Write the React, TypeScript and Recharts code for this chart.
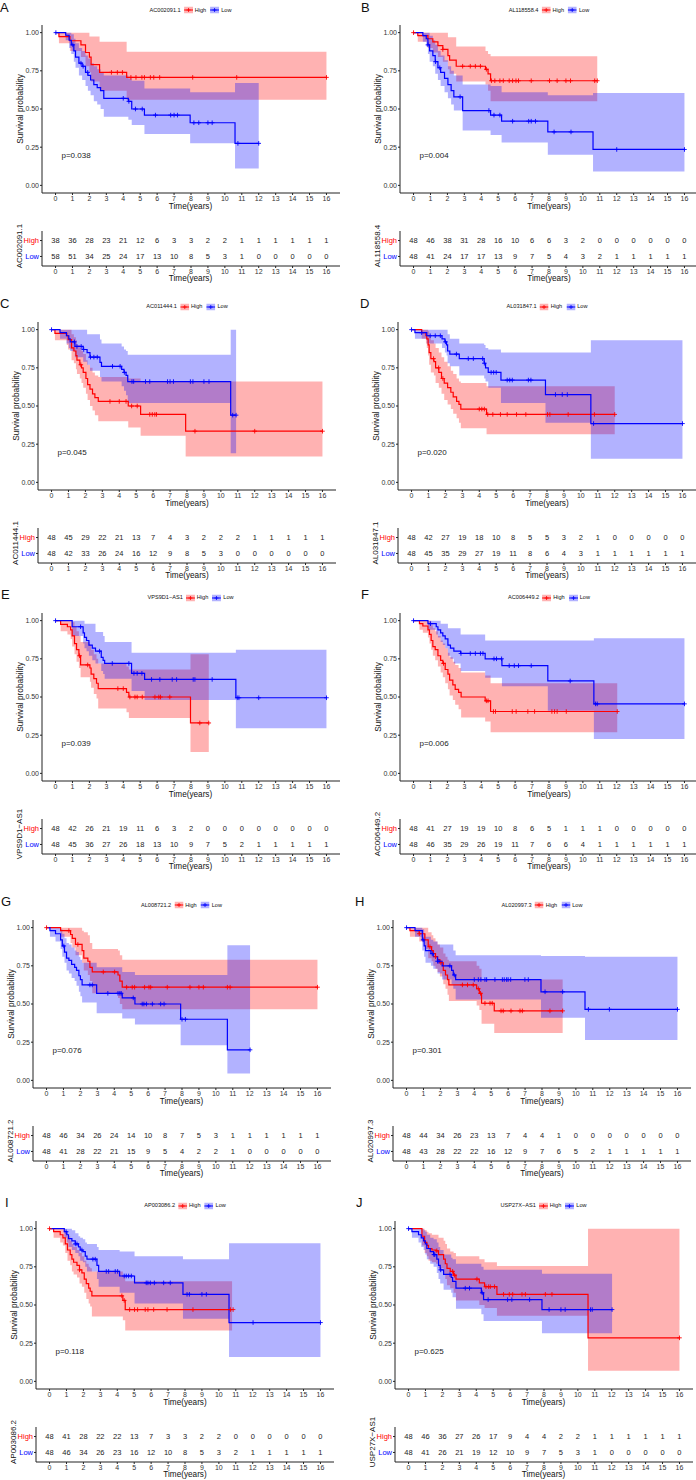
import React from 'react'
import { Area, ComposedChart, Line, Scatter, XAxis, YAxis } from 'recharts'

const YEARS = [0, 1, 2, 3, 4, 5, 6, 7, 8, 9, 10, 11, 12, 13, 14, 15, 16]
const SURV_TICKS = [0, 0.25, 0.5, 0.75, 1]

const LETTERS = ['A', 'B', 'C', 'D', 'E', 'F', 'G', 'H', 'I', 'J']
const GENES = ['AC002091.1', 'AL118558.4', 'AC011444.1', 'AL031847.1', 'VPS9D1\u2212AS1', 'AC006449.2', 'AL008721.2', 'AL020997.3', 'AP003086.2', 'USP27X\u2212AS1']
const PVALS = ['p=0.038', 'p=0.004', 'p=0.045', 'p=0.020', 'p=0.039', 'p=0.006', 'p=0.076', 'p=0.301', 'p=0.118', 'p=0.625']

// ---- A ----
const aHighTime = [0, 0.2, 0.85, 1.5, 1.77, 2.0, 2.1, 2.6, 4.2, 16]
const aHighSurv = [1, 0.974, 0.947, 0.92, 0.87, 0.84, 0.79, 0.74, 0.707, 0.707]
const aHighLower = [1, 0.93, 0.88, 0.84, 0.78, 0.74, 0.68, 0.62, 0.56, 0.56]
const aHighUpper = [1, 1, 1, 1, 1, 0.975, 0.975, 0.94, 0.875, 0.875]
const aHighCensor = [3.3, 3.65, 3.95, 4.45, 4.75, 5.1, 5.25, 5.6, 5.8, 6.15, 8.1, 10.7, 16]
const aLowTime = [0, 0.6, 0.8, 0.93, 1.08, 1.18, 1.38, 1.57, 1.77, 1.91, 2.07, 2.26, 2.46, 2.66, 2.85, 4.3, 4.5, 5.25, 7.95, 10.6, 12]
const aLowSurv = [1, 0.983, 0.95, 0.92, 0.88, 0.84, 0.8, 0.78, 0.74, 0.72, 0.69, 0.66, 0.64, 0.62, 0.57, 0.55, 0.5, 0.46, 0.41, 0.275, 0.275]
const aLowLower = [1, 0.95, 0.9, 0.86, 0.81, 0.77, 0.72, 0.69, 0.65, 0.62, 0.59, 0.55, 0.53, 0.5, 0.45, 0.43, 0.395, 0.336, 0.275, 0.11, 0.11]
const aLowUpper = [1, 1, 1, 0.99, 0.96, 0.93, 0.9, 0.88, 0.85, 0.83, 0.8, 0.78, 0.76, 0.74, 0.72, 0.7, 0.685, 0.635, 0.61, 0.67, 0.67]
const aLowCensor = [0.02, 1.02, 1.5, 1.63, 1.9, 4.0, 4.33, 4.72, 5.12, 5.9, 6.8, 7.0, 7.2, 8.17, 8.46, 9.0, 9.25, 10.77, 12]
const aHighRisk = [38, 36, 28, 23, 21, 12, 6, 3, 3, 2, 2, 1, 1, 1, 1, 1, 1]
const aLowRisk = [58, 51, 34, 25, 24, 17, 13, 10, 8, 5, 3, 1, 0, 0, 0, 0, 0]

// ---- B ----
const bHighTime = [0, 0.25, 0.85, 1.14, 1.44, 1.73, 2.03, 2.13, 2.52, 4.25, 4.4, 4.55, 10.85]
const bHighSurv = [1, 0.98, 0.96, 0.94, 0.915, 0.89, 0.85, 0.82, 0.78, 0.76, 0.73, 0.685, 0.685]
const bHighLower = [1, 0.94, 0.9, 0.87, 0.84, 0.81, 0.76, 0.73, 0.68, 0.66, 0.62, 0.55, 0.55]
const bHighUpper = [1, 1, 1, 1, 1, 1, 0.97, 0.97, 0.91, 0.88, 0.86, 0.845, 0.845]
const bHighCensor = [0, 1.73, 2.9, 3.35, 3.65, 3.95, 4.3, 4.6, 4.8, 5.1, 5.3, 5.65, 5.85, 6.05, 6.2, 6.95, 8.03, 8.48, 9.0, 9.27, 10.7, 10.85]
const bLowTime = [0, 0.55, 0.75, 0.85, 0.95, 1.14, 1.28, 1.44, 1.6, 1.83, 2.03, 2.22, 2.38, 2.9, 4.55, 5.2, 7.93, 10.6, 16]
const bLowSurv = [1, 0.98, 0.96, 0.92, 0.88, 0.85, 0.81, 0.77, 0.74, 0.7, 0.66, 0.62, 0.58, 0.49, 0.46, 0.42, 0.35, 0.235, 0.235]
const bLowLower = [1, 0.94, 0.91, 0.86, 0.81, 0.78, 0.73, 0.69, 0.65, 0.61, 0.57, 0.53, 0.49, 0.36, 0.33, 0.28, 0.2, 0.09, 0.09]
const bLowUpper = [1, 1, 1, 1, 0.98, 0.95, 0.92, 0.88, 0.85, 0.82, 0.78, 0.75, 0.72, 0.66, 0.65, 0.61, 0.59, 0.605, 0.605]
const bLowCensor = [0.85, 1.3, 1.55, 2.75, 4.45, 4.75, 5.1, 5.85, 6.8, 6.95, 7.2, 8.3, 9.3, 12, 16]
const bHighRisk = [48, 46, 38, 31, 28, 16, 10, 6, 6, 3, 2, 0, 0, 0, 0, 0, 0]
const bLowRisk = [48, 41, 24, 17, 17, 13, 9, 7, 5, 4, 3, 2, 1, 1, 1, 1, 1]

// ---- C ----
const cHighTime = [0, 0.2, 0.9, 0.98, 1.18, 1.32, 1.44, 1.5, 1.67, 1.77, 1.87, 2.03, 2.13, 2.27, 2.42, 2.56, 2.76, 4.53, 5.26, 7.92, 16]
const cHighSurv = [1, 0.975, 0.96, 0.935, 0.88, 0.86, 0.83, 0.8, 0.77, 0.75, 0.72, 0.68, 0.64, 0.61, 0.58, 0.555, 0.53, 0.5, 0.445, 0.335, 0.335]
const cHighLower = [1, 0.93, 0.9, 0.87, 0.8, 0.78, 0.74, 0.71, 0.68, 0.65, 0.62, 0.58, 0.54, 0.5, 0.47, 0.44, 0.4, 0.36, 0.305, 0.17, 0.17]
const cHighUpper = [1, 1, 1, 1, 0.97, 0.95, 0.93, 0.9, 0.88, 0.86, 0.84, 0.8, 0.77, 0.75, 0.72, 0.7, 0.69, 0.68, 0.66, 0.66, 0.66]
const cHighCensor = [1.73, 3.45, 4.0, 4.4, 4.73, 5.06, 5.8, 5.95, 6.1, 6.2, 8.47, 12, 16]
const cLowTime = [0, 0.5, 0.88, 1.02, 1.1, 1.38, 1.87, 2.1, 2.27, 2.86, 2.95, 4.14, 4.28, 4.4, 4.5, 10.58, 10.9]
const cLowSurv = [1, 0.98, 0.96, 0.94, 0.92, 0.89, 0.87, 0.85, 0.82, 0.785, 0.76, 0.74, 0.72, 0.7, 0.66, 0.44, 0.44]
const cLowLower = [1, 0.94, 0.91, 0.88, 0.86, 0.82, 0.79, 0.77, 0.73, 0.69, 0.66, 0.63, 0.6, 0.57, 0.52, 0.19, 0.19]
const cLowUpper = [1, 1, 1, 1, 1, 1, 1, 0.97, 0.97, 0.935, 0.91, 0.89, 0.87, 0.86, 0.835, 1, 1]
const cLowCensor = [0, 1.35, 1.5, 1.75, 1.9, 2.3, 2.5, 2.7, 3.6, 4.05, 4.3, 4.75, 4.85, 5.55, 5.8, 6.85, 7.0, 7.2, 8.2, 8.35, 9.0, 9.3, 10.7, 10.9]
const cHighRisk = [48, 45, 29, 22, 21, 13, 7, 4, 3, 2, 2, 2, 1, 1, 1, 1, 1]
const cLowRisk = [48, 42, 33, 26, 24, 16, 12, 9, 8, 5, 3, 0, 0, 0, 0, 0, 0]

// ---- D ----
const dHighTime = [0, 0.6, 0.85, 0.9, 0.98, 1.04, 1.14, 1.32, 1.42, 1.61, 1.77, 1.93, 2.13, 2.32, 2.46, 2.66, 2.8, 2.91, 4.43, 12]
const dHighSurv = [1, 0.98, 0.96, 0.94, 0.9, 0.85, 0.81, 0.79, 0.75, 0.72, 0.68, 0.65, 0.62, 0.59, 0.56, 0.53, 0.51, 0.48, 0.445, 0.445]
const dHighLower = [1, 0.94, 0.91, 0.88, 0.83, 0.77, 0.72, 0.7, 0.65, 0.62, 0.58, 0.54, 0.51, 0.48, 0.45, 0.42, 0.39, 0.355, 0.315, 0.315]
const dHighUpper = [1, 1, 1, 1, 0.99, 0.96, 0.93, 0.91, 0.88, 0.85, 0.82, 0.79, 0.76, 0.73, 0.71, 0.68, 0.66, 0.65, 0.63, 0.63]
const dHighCensor = [1.3, 1.6, 1.85, 4.0, 4.15, 4.3, 4.5, 4.8, 5.25, 5.65, 6.2, 6.75, 8.03, 8.17, 9.25, 10.8, 12]
const dLowTime = [0, 0.2, 0.9, 1.8, 1.97, 2.07, 2.13, 2.26, 2.82, 4.29, 4.37, 4.53, 5.28, 7.91, 10.59, 16]
const dLowSurv = [1, 0.98, 0.96, 0.94, 0.92, 0.9, 0.86, 0.84, 0.81, 0.78, 0.75, 0.72, 0.67, 0.575, 0.385, 0.385]
const dLowLower = [1, 0.94, 0.91, 0.88, 0.85, 0.83, 0.78, 0.76, 0.7, 0.68, 0.66, 0.62, 0.52, 0.39, 0.155, 0.155]
const dLowUpper = [1, 1, 1, 1, 1, 1, 0.97, 0.94, 0.91, 0.9, 0.88, 0.87, 0.85, 0.85, 0.93, 0.93]
const dLowCensor = [0, 0.6, 1.1, 1.4, 1.7, 2.0, 2.65, 3.35, 3.65, 4.2, 4.3, 4.7, 4.85, 5.0, 5.65, 5.8, 5.95, 6.9, 7.05, 8.5, 8.9, 9.2, 10.75, 16]
const dHighRisk = [48, 42, 27, 19, 18, 10, 8, 5, 5, 3, 2, 1, 0, 0, 0, 0, 0]
const dLowRisk = [48, 45, 35, 29, 27, 19, 11, 8, 6, 4, 3, 1, 1, 1, 1, 1, 1]

// ---- E ----
const eHighTime = [0, 0.3, 0.7, 0.89, 0.98, 1.12, 1.24, 1.38, 1.48, 2.03, 2.1, 2.26, 2.42, 2.52, 4.19, 4.33, 7.97, 9.05]
const eHighSurv = [1, 0.975, 0.96, 0.94, 0.9, 0.85, 0.81, 0.77, 0.71, 0.69, 0.65, 0.62, 0.59, 0.555, 0.53, 0.5, 0.33, 0.33]
const eHighLower = [1, 0.93, 0.91, 0.88, 0.83, 0.78, 0.73, 0.69, 0.63, 0.6, 0.56, 0.52, 0.49, 0.425, 0.4, 0.363, 0.14, 0.14]
const eHighUpper = [1, 1, 1, 1, 0.99, 0.96, 0.93, 0.9, 0.86, 0.84, 0.81, 0.78, 0.75, 0.72, 0.7, 0.68, 0.78, 0.78]
const eHighCensor = [1.42, 1.9, 3.68, 4.0, 4.39, 4.69, 4.82, 5.12, 5.87, 6.1, 6.2, 6.75, 8.52, 9.05]
const eLowTime = [0, 0.98, 1.63, 1.71, 1.83, 1.97, 2.17, 2.36, 2.7, 2.81, 2.9, 4.49, 5.26, 10.65, 16]
const eLowSurv = [1, 0.96, 0.92, 0.89, 0.87, 0.84, 0.82, 0.8, 0.76, 0.74, 0.72, 0.655, 0.615, 0.495, 0.495]
const eLowLower = [1, 0.9, 0.85, 0.82, 0.8, 0.77, 0.74, 0.72, 0.67, 0.65, 0.62, 0.54, 0.48, 0.295, 0.295]
const eLowUpper = [1, 1, 1, 0.98, 0.98, 0.98, 0.98, 0.925, 0.925, 0.9, 0.86, 0.79, 0.79, 0.81, 0.81]
const eLowCensor = [0, 1.48, 2.6, 3.35, 4.33, 4.63, 4.82, 5.1, 5.67, 6.16, 6.89, 7.15, 8.13, 8.23, 9.25, 10.73, 10.83, 12, 16]
const eHighRisk = [48, 42, 26, 21, 19, 11, 6, 3, 2, 0, 0, 0, 0, 0, 0, 0, 0]
const eLowRisk = [48, 45, 36, 27, 26, 18, 13, 10, 9, 7, 5, 2, 1, 1, 1, 1, 1]

// ---- F ----
const fHighTime = [0, 0.35, 0.55, 0.85, 0.94, 1.04, 1.14, 1.28, 1.44, 1.6, 1.73, 1.87, 2.03, 2.13, 2.32, 2.46, 2.66, 2.81, 4.23, 4.55, 12.03]
const fHighSurv = [1, 0.98, 0.965, 0.94, 0.91, 0.87, 0.83, 0.81, 0.77, 0.74, 0.72, 0.68, 0.65, 0.61, 0.58, 0.55, 0.53, 0.5, 0.475, 0.405, 0.405]
const fHighLower = [1, 0.94, 0.92, 0.89, 0.85, 0.81, 0.77, 0.74, 0.7, 0.66, 0.63, 0.59, 0.55, 0.51, 0.48, 0.45, 0.42, 0.365, 0.34, 0.27, 0.27]
const fHighUpper = [1, 1, 1, 1, 1, 0.97, 0.95, 0.93, 0.9, 0.87, 0.85, 0.82, 0.79, 0.76, 0.73, 0.71, 0.69, 0.66, 0.64, 0.59, 0.59]
const fHighCensor = [1.77, 4.3, 4.4, 4.72, 4.84, 5.83, 6.06, 6.75, 7.15, 8.17, 8.33, 8.48, 9.02, 12.03]
const fLowTime = [0, 0.85, 1.34, 1.44, 1.6, 1.73, 1.87, 2.03, 2.18, 2.38, 2.78, 4.23, 5.22, 7.93, 10.65, 16]
const fLowSurv = [1, 0.98, 0.96, 0.94, 0.92, 0.9, 0.88, 0.84, 0.82, 0.8, 0.785, 0.75, 0.705, 0.605, 0.455, 0.455]
const fLowLower = [1, 0.94, 0.91, 0.89, 0.86, 0.84, 0.82, 0.77, 0.75, 0.72, 0.67, 0.626, 0.57, 0.41, 0.225, 0.225]
const fLowUpper = [1, 1, 1, 1, 0.98, 0.98, 0.98, 0.95, 0.95, 0.95, 0.91, 0.87, 0.87, 0.87, 0.885, 0.885]
const fLowCensor = [0, 1.0, 2.8, 3.35, 3.65, 3.95, 4.1, 4.75, 4.9, 5.2, 5.65, 5.95, 6.2, 6.95, 9.25, 10.75, 10.85, 16]
const fHighRisk = [48, 41, 27, 19, 19, 10, 8, 6, 5, 1, 1, 1, 0, 0, 0, 0, 0]
const fLowRisk = [48, 46, 35, 29, 26, 19, 11, 7, 6, 6, 4, 1, 1, 1, 1, 1, 1]

// ---- G ----
const gHighTime = [0, 0.83, 1.42, 1.52, 1.71, 2.1, 2.2, 2.44, 2.56, 2.7, 4.22, 4.33, 4.47, 16]
const gHighSurv = [1, 0.98, 0.955, 0.93, 0.89, 0.85, 0.8, 0.78, 0.74, 0.71, 0.69, 0.65, 0.61, 0.61]
const gHighLower = [1, 0.94, 0.9, 0.87, 0.82, 0.77, 0.72, 0.69, 0.65, 0.57, 0.54, 0.5, 0.465, 0.465]
const gHighUpper = [1, 1, 1, 1, 1, 0.98, 0.97, 0.95, 0.9, 0.86, 0.85, 0.82, 0.79, 0.79]
const gHighCensor = [0, 1.32, 1.85, 3.35, 4.02, 4.73, 5.06, 5.2, 5.79, 6.05, 6.15, 7.13, 8.47, 9.0, 9.26, 10.68, 10.84, 16]
const gLowTime = [0, 0.2, 0.53, 0.83, 0.93, 1.06, 1.18, 1.32, 1.48, 1.66, 1.77, 1.91, 2.0, 2.1, 2.96, 4.47, 5.22, 7.92, 10.68, 12.02]
const gLowSurv = [1, 0.98, 0.96, 0.92, 0.88, 0.84, 0.8, 0.785, 0.76, 0.74, 0.72, 0.685, 0.66, 0.625, 0.57, 0.54, 0.5, 0.4, 0.2, 0.2]
const gLowLower = [1, 0.94, 0.91, 0.86, 0.81, 0.77, 0.72, 0.7, 0.67, 0.65, 0.62, 0.58, 0.55, 0.51, 0.44, 0.405, 0.365, 0.23, 0.045, 0.045]
const gLowUpper = [1, 1, 1, 0.99, 0.96, 0.93, 0.9, 0.89, 0.87, 0.85, 0.84, 0.81, 0.79, 0.77, 0.74, 0.71, 0.69, 0.69, 0.885, 0.885]
const gLowCensor = [1.02, 2.56, 2.7, 3.62, 4.22, 4.33, 4.41, 5.12, 5.65, 5.75, 5.9, 6.25, 6.74, 6.94, 8.0, 8.2, 12.02]
const gHighRisk = [48, 46, 34, 26, 24, 14, 10, 8, 7, 5, 3, 1, 1, 1, 1, 1, 1]
const gLowRisk = [48, 41, 28, 22, 21, 15, 9, 5, 4, 2, 2, 1, 0, 0, 0, 0, 0]

// ---- H ----
const hHighTime = [0, 0.2, 0.75, 1.08, 1.28, 1.48, 1.58, 1.71, 1.83, 1.97, 2.17, 2.3, 2.42, 2.5, 4.14, 4.3, 4.43, 5.18, 9.22]
const hHighSurv = [1, 0.98, 0.96, 0.92, 0.875, 0.85, 0.83, 0.81, 0.79, 0.77, 0.72, 0.69, 0.66, 0.625, 0.6, 0.57, 0.505, 0.455, 0.455]
const hHighLower = [1, 0.94, 0.91, 0.86, 0.8, 0.78, 0.75, 0.73, 0.71, 0.68, 0.63, 0.6, 0.56, 0.52, 0.49, 0.46, 0.37, 0.31, 0.31]
const hHighUpper = [1, 1, 1, 1, 0.97, 0.95, 0.93, 0.91, 0.89, 0.87, 0.83, 0.81, 0.79, 0.78, 0.75, 0.73, 0.66, 0.66, 0.66]
const hHighCensor = [0.75, 1.38, 1.71, 2.03, 3.3, 3.6, 3.94, 4.24, 4.37, 4.63, 4.93, 5.06, 5.58, 5.71, 6.17, 6.7, 6.84, 8.47, 9.22]
const hLowTime = [0, 0.5, 0.93, 1.04, 1.12, 1.44, 1.58, 1.83, 2.1, 2.66, 2.76, 2.9, 7.94, 10.54, 16]
const hLowSurv = [1, 0.98, 0.92, 0.88, 0.85, 0.83, 0.81, 0.78, 0.75, 0.72, 0.69, 0.66, 0.58, 0.465, 0.465]
const hLowLower = [1, 0.94, 0.85, 0.81, 0.77, 0.75, 0.73, 0.7, 0.66, 0.63, 0.6, 0.53, 0.41, 0.265, 0.265]
const hLowUpper = [1, 1, 0.99, 0.96, 0.94, 0.92, 0.91, 0.89, 0.89, 0.89, 0.85, 0.82, 0.815, 0.81, 0.81]
const hLowCensor = [0, 0.98, 1.52, 1.83, 1.91, 2.56, 2.82, 4.0, 4.24, 4.39, 4.63, 4.73, 5.22, 5.66, 5.77, 5.91, 6.0, 6.15, 6.99, 7.19, 8.18, 9.22, 10.74, 11.98, 16]
const hHighRisk = [48, 44, 34, 26, 23, 13, 7, 4, 4, 1, 0, 0, 0, 0, 0, 0, 0]
const hLowRisk = [48, 43, 28, 22, 22, 16, 12, 9, 7, 6, 5, 2, 1, 1, 1, 1, 1]

// ---- I ----
const iHighTime = [0, 0.24, 0.63, 0.79, 0.93, 1.06, 1.22, 1.32, 1.42, 1.62, 1.77, 1.91, 2.05, 2.17, 2.31, 2.4, 2.5, 4.33, 4.47, 10.78]
const iHighSurv = [1, 0.98, 0.96, 0.94, 0.9, 0.86, 0.83, 0.8, 0.78, 0.76, 0.73, 0.71, 0.67, 0.64, 0.61, 0.59, 0.56, 0.53, 0.47, 0.47]
const iHighLower = [1, 0.94, 0.91, 0.89, 0.84, 0.79, 0.76, 0.72, 0.7, 0.68, 0.64, 0.62, 0.58, 0.54, 0.51, 0.49, 0.425, 0.4, 0.333, 0.333]
const iHighUpper = [1, 1, 1, 1, 0.98, 0.95, 0.92, 0.9, 0.88, 0.86, 0.84, 0.82, 0.79, 0.77, 0.75, 0.74, 0.72, 0.69, 0.655, 0.655]
const iHighCensor = [0, 1.77, 4.27, 4.41, 4.73, 5.02, 5.2, 5.65, 5.81, 6.15, 6.94, 8.47, 10.68, 10.84]
const iLowTime = [0, 0.87, 1.02, 1.12, 1.32, 1.52, 1.71, 1.81, 1.97, 2.11, 2.21, 2.8, 2.9, 4.14, 5.02, 7.88, 10.6, 16]
const iLowSurv = [1, 0.98, 0.96, 0.935, 0.92, 0.9, 0.88, 0.86, 0.85, 0.82, 0.8, 0.76, 0.72, 0.69, 0.645, 0.57, 0.385, 0.385]
const iLowLower = [1, 0.94, 0.91, 0.88, 0.86, 0.84, 0.82, 0.79, 0.78, 0.75, 0.72, 0.67, 0.62, 0.58, 0.51, 0.41, 0.16, 0.16]
const iLowUpper = [1, 1, 1, 1, 0.99, 0.97, 0.95, 0.94, 0.93, 0.91, 0.9, 0.88, 0.86, 0.85, 0.82, 0.8, 0.905, 0.905]
const iLowCensor = [0.98, 1.52, 1.62, 1.91, 2.56, 2.7, 3.35, 3.49, 3.88, 4.02, 4.41, 4.53, 4.67, 4.83, 5.71, 5.81, 5.95, 6.19, 6.74, 7.13, 8.12, 8.26, 9.0, 9.26, 12.02, 16]
const iHighRisk = [48, 41, 28, 22, 22, 13, 7, 3, 3, 2, 2, 0, 0, 0, 0, 0, 0]
const iLowRisk = [48, 46, 34, 26, 23, 16, 12, 10, 8, 5, 3, 2, 1, 1, 1, 1, 1]

// ---- J ----
const jHighTime = [0, 0.79, 0.95, 1.08, 1.18, 1.38, 1.62, 1.77, 2.07, 2.17, 2.27, 2.46, 2.66, 2.8, 4.18, 4.49, 5.22, 10.6, 16]
const jHighSurv = [1, 0.95, 0.91, 0.89, 0.87, 0.86, 0.855, 0.83, 0.8, 0.77, 0.74, 0.72, 0.695, 0.67, 0.645, 0.62, 0.57, 0.285, 0.285]
const jHighLower = [1, 0.89, 0.84, 0.82, 0.79, 0.78, 0.77, 0.74, 0.7, 0.67, 0.63, 0.61, 0.58, 0.53, 0.5, 0.48, 0.43, 0.07, 0.07]
const jHighUpper = [1, 1, 0.99, 0.98, 0.97, 0.96, 0.96, 0.94, 0.92, 0.9, 0.87, 0.85, 0.84, 0.82, 0.8, 0.78, 0.755, 1, 1]
const jHighCensor = [1.67, 2.6, 2.72, 4.04, 4.57, 4.73, 4.83, 5.08, 5.61, 5.95, 6.15, 6.7, 6.9, 8.08, 8.47, 16]
const jLowTime = [0, 0.2, 0.59, 0.75, 0.89, 0.99, 1.08, 1.28, 1.48, 1.67, 1.77, 1.87, 2.07, 2.52, 2.6, 2.8, 4.3, 4.43, 7.88, 12.02]
const jLowSurv = [1, 0.98, 0.96, 0.94, 0.92, 0.9, 0.87, 0.85, 0.83, 0.8, 0.76, 0.73, 0.7, 0.68, 0.655, 0.61, 0.58, 0.535, 0.47, 0.47]
const jLowLower = [1, 0.94, 0.91, 0.88, 0.86, 0.83, 0.8, 0.77, 0.75, 0.71, 0.67, 0.64, 0.6, 0.58, 0.55, 0.475, 0.44, 0.395, 0.315, 0.315]
const jLowUpper = [1, 1, 1, 1, 0.99, 0.98, 0.96, 0.94, 0.93, 0.91, 0.88, 0.86, 0.83, 0.81, 0.8, 0.77, 0.75, 0.73, 0.705, 0.705]
const jLowCensor = [0, 1.5, 1.55, 1.9, 2.45, 3.35, 3.6, 4.35, 4.7, 5.85, 6.1, 7.15, 8.3, 9.0, 9.25, 10.75, 10.85, 12.02]
const jHighRisk = [48, 46, 36, 27, 26, 17, 9, 4, 4, 2, 2, 1, 1, 1, 1, 1, 1]
const jLowRisk = [48, 41, 26, 21, 19, 12, 10, 9, 7, 5, 3, 1, 0, 0, 0, 0, 0]

// panel placement: x of the y-axis line, y of the plot top, x of the panel letter
const PANEL_AX = [41.5, 400, 38, 398, 41.5, 400, 32.5, 393, 36, 394.5]
const PANEL_TOP = [25, 25, 321.5, 321.5, 612.5, 612.5, 920, 920, 1220.5, 1220.5]
const LETTER_X = [0, 361, 0, 360, 1, 361, 1, 355, 5, 356]

const RED = '#FF0000'
const BLUE = '#0000FF'
const FONT = "'Liberation Sans', Arial, Helvetica, sans-serif"

type Curve = { time: number[]; surv: number[]; lower: number[]; upper: number[]; censor: number[] }

const mk = (time: number[], surv: number[], lower: number[], upper: number[], censor: number[]): Curve => ({ time, surv, lower, upper, censor })

const PANELS = [
  { high: mk(aHighTime, aHighSurv, aHighLower, aHighUpper, aHighCensor), low: mk(aLowTime, aLowSurv, aLowLower, aLowUpper, aLowCensor), highRisk: aHighRisk, lowRisk: aLowRisk },
  { high: mk(bHighTime, bHighSurv, bHighLower, bHighUpper, bHighCensor), low: mk(bLowTime, bLowSurv, bLowLower, bLowUpper, bLowCensor), highRisk: bHighRisk, lowRisk: bLowRisk },
  { high: mk(cHighTime, cHighSurv, cHighLower, cHighUpper, cHighCensor), low: mk(cLowTime, cLowSurv, cLowLower, cLowUpper, cLowCensor), highRisk: cHighRisk, lowRisk: cLowRisk },
  { high: mk(dHighTime, dHighSurv, dHighLower, dHighUpper, dHighCensor), low: mk(dLowTime, dLowSurv, dLowLower, dLowUpper, dLowCensor), highRisk: dHighRisk, lowRisk: dLowRisk },
  { high: mk(eHighTime, eHighSurv, eHighLower, eHighUpper, eHighCensor), low: mk(eLowTime, eLowSurv, eLowLower, eLowUpper, eLowCensor), highRisk: eHighRisk, lowRisk: eLowRisk },
  { high: mk(fHighTime, fHighSurv, fHighLower, fHighUpper, fHighCensor), low: mk(fLowTime, fLowSurv, fLowLower, fLowUpper, fLowCensor), highRisk: fHighRisk, lowRisk: fLowRisk },
  { high: mk(gHighTime, gHighSurv, gHighLower, gHighUpper, gHighCensor), low: mk(gLowTime, gLowSurv, gLowLower, gLowUpper, gLowCensor), highRisk: gHighRisk, lowRisk: gLowRisk },
  { high: mk(hHighTime, hHighSurv, hHighLower, hHighUpper, hHighCensor), low: mk(hLowTime, hLowSurv, hLowLower, hLowUpper, hLowCensor), highRisk: hHighRisk, lowRisk: hLowRisk },
  { high: mk(iHighTime, iHighSurv, iHighLower, iHighUpper, iHighCensor), low: mk(iLowTime, iLowSurv, iLowLower, iLowUpper, iLowCensor), highRisk: iHighRisk, lowRisk: iLowRisk },
  { high: mk(jHighTime, jHighSurv, jHighLower, jHighUpper, jHighCensor), low: mk(jLowTime, jLowSurv, jLowLower, jLowUpper, jLowCensor), highRisk: jHighRisk, lowRisk: jLowRisk },
]

function stepAt(time: number[], surv: number[], t: number) {
  let v = surv[0]
  for (let i = 0; i < time.length; i++) if (time[i] <= t) v = surv[i]
  return v
}

const curveRows = (c: Curve) => c.time.map((t, i) => ({ t, s: c.surv[i], band: [c.lower[i], c.upper[i]] }))
const censorRows = (c: Curve) => c.censor.map((t) => ({ t, s: stepAt(c.time, c.surv, t) }))

const plusShape = (color: string) => (props: any) => {
  const { cx, cy } = props
  if (cx == null || cy == null) return <g />
  return <path d={`M${cx - 2.3},${cy}H${cx + 2.3}M${cx},${cy - 2.3}V${cy + 2.3}`} stroke={color} strokeWidth={0.9} />
}

const axisTick = { fontSize: 7, fill: '#333', fontFamily: FONT }
const AXIS_COLOR = '#222'
const PLOT_W = 298

function LegendKey({ color }: { color: string }) {
  return (
    <svg width={9} height={7} style={{ display: 'block' }}>
      <rect x={0} y={0} width={9} height={7} fill={color} fillOpacity={0.3} />
      <line x1={0} x2={9} y1={3.5} y2={3.5} stroke={color} strokeWidth={1} />
      <path d="M4.5,1.5V5.5M2.5,3.5H6.5" stroke={color} strokeWidth={0.8} />
    </svg>
  )
}

// tick for the risk table: row 2 is High, row 1 is Low
const riskTick = (props: any) => {
  const isHigh = props.payload.value === 2
  return (
    <text x={props.x} y={props.y} dy="0.35em" textAnchor="end" fontSize={7.5} fill={isHigh ? RED : BLUE} fontFamily={FONT}>
      {isHigh ? 'High' : 'Low'}
    </text>
  )
}

const numShape = (props: any) => (
  <text x={props.cx} y={props.cy} dy="0.35em" textAnchor="middle" fontSize={7.5} fill="#222" fontFamily={FONT}>
    {props.payload?.n ?? props.n}
  </text>
)

function Panel({ idx }: { idx: number }) {
  const p = PANELS[idx]
  const ax = PANEL_AX[idx]
  const top = PANEL_TOP[idx]
  const cx = ax + PLOT_W / 2
  const high = curveRows(p.high)
  const low = curveRows(p.low)
  const riskHighRows = YEARS.map((t, i) => ({ t, row: 2, n: p.highRisk[i] }))
  const riskLowRows = YEARS.map((t, i) => ({ t, row: 1, n: p.lowRisk[i] }))
  const pvalShape = (props: any) => (
    <text x={props.cx} y={props.cy} dy="0.35em" fontSize={8} fill="#222" fontFamily={FONT}>
      {PVALS[idx]}
    </text>
  )
  const center: React.CSSProperties = { position: 'absolute', transform: 'translate(-50%,-50%)', whiteSpace: 'nowrap', lineHeight: 1 }
  const rotated: React.CSSProperties = { position: 'absolute', transform: 'translate(-50%,-50%) rotate(-90deg)', whiteSpace: 'nowrap', lineHeight: 1 }

  return (
    <>
      <div style={{ position: 'absolute', left: LETTER_X[idx], top: Math.max(1, top - 25), fontSize: 13, lineHeight: '13px' }}>{LETTERS[idx]}</div>
      <div style={{ ...center, left: cx, top: top - 15, display: 'flex', alignItems: 'center', fontSize: 5.6 }}>
        <span style={{ marginRight: 3 }}>{GENES[idx]}</span>
        <LegendKey color={RED} />
        <span style={{ margin: '0 4px 0 2px' }}>High</span>
        <LegendKey color={BLUE} />
        <span style={{ marginLeft: 2 }}>Low</span>
      </div>

      <div style={{ position: 'absolute', left: ax - 42, top: top - 5 }}>
        <ComposedChart width={42 + PLOT_W} height={195} margin={{ top: 5, right: 0, bottom: 0, left: 0 }}>
          <XAxis dataKey="t" type="number" domain={[-0.8, 16.8]} ticks={YEARS} interval={0} allowDataOverflow height={22} tickSize={2} tickMargin={1} tick={axisTick} stroke={AXIS_COLOR} />
          <YAxis type="number" domain={[-0.05, 1.05]} ticks={SURV_TICKS} interval={0} allowDataOverflow width={42} tickSize={2} tickMargin={1} tick={axisTick} tickFormatter={(v: number) => v.toFixed(2)} stroke={AXIS_COLOR} />
          <Area data={high} dataKey="band" type="stepAfter" stroke="none" fill={RED} fillOpacity={0.3} isAnimationActive={false} activeDot={false} />
          <Area data={low} dataKey="band" type="stepAfter" stroke="none" fill={BLUE} fillOpacity={0.3} isAnimationActive={false} activeDot={false} />
          <Line data={high} dataKey="s" type="stepAfter" stroke={RED} strokeWidth={1.2} dot={false} activeDot={false} isAnimationActive={false} />
          <Line data={low} dataKey="s" type="stepAfter" stroke={BLUE} strokeWidth={1.2} dot={false} activeDot={false} isAnimationActive={false} />
          <Scatter data={censorRows(p.high)} dataKey="s" shape={plusShape(RED)} isAnimationActive={false} />
          <Scatter data={censorRows(p.low)} dataKey="s" shape={plusShape(BLUE)} isAnimationActive={false} />
          <Scatter data={[{ t: 0.35, s: 0.2 }]} dataKey="s" shape={pvalShape} isAnimationActive={false} />
        </ComposedChart>
      </div>
      <div style={{ ...rotated, left: ax - 22, top: top + 84, fontSize: 8.3 }}>Survival probability</div>
      <div style={{ ...center, left: cx, top: top + 182, fontSize: 8.2 }}>Time(years)</div>

      <div style={{ position: 'absolute', left: ax - 42, top: top + 204 }}>
        <ComposedChart width={42 + PLOT_W} height={51} margin={{ top: 2, right: 0, bottom: 0, left: 0 }}>
          <XAxis dataKey="t" type="number" domain={[-0.8, 16.8]} ticks={YEARS} interval={0} allowDataOverflow height={14} tickSize={2} tickMargin={1} tick={axisTick} stroke={AXIS_COLOR} />
          <YAxis type="number" domain={[0.4, 2.6]} ticks={[1, 2]} interval={0} allowDataOverflow width={42} tickSize={2} tickMargin={1} tick={riskTick} stroke={AXIS_COLOR} />
          <Scatter data={riskHighRows} dataKey="row" shape={numShape} isAnimationActive={false} />
          <Scatter data={riskLowRows} dataKey="row" shape={numShape} isAnimationActive={false} />
        </ComposedChart>
      </div>
      <div style={{ ...rotated, left: ax - 22, top: top + 221, fontSize: 8 }}>{GENES[idx]}</div>
      <div style={{ ...center, left: cx, top: top + 254, fontSize: 8.2 }}>Time(years)</div>
    </>
  )
}

export default function App() {
  return (
    <div style={{ position: 'absolute', left: 0, top: 0, width: 696, height: 1480, background: '#fff', overflow: 'hidden', fontFamily: FONT, color: '#111' }}>
      {PANELS.map((_, i) => (
        <Panel key={i} idx={i} />
      ))}
    </div>
  )
}
